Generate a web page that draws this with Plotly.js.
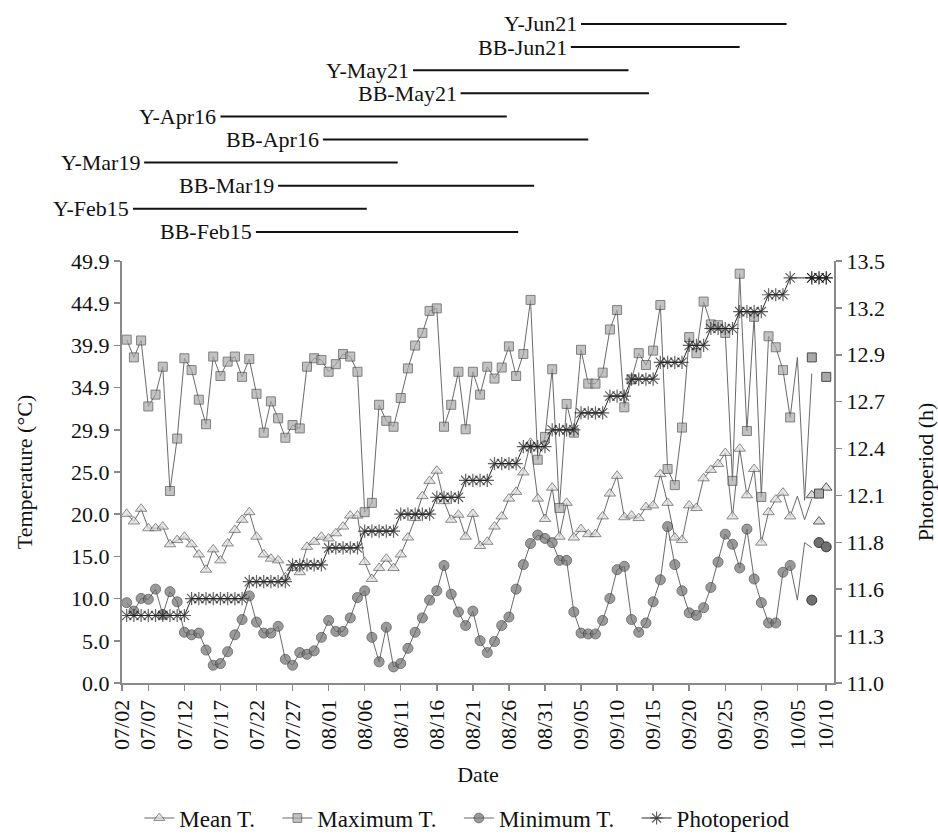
<!DOCTYPE html>
<html>
<head>
<meta charset="utf-8">
<script src="https://cdn.plot.ly/plotly-3.0.1.min.js"></script>
<style>html,body{margin:0;padding:0;background:#fff}#chart{width:938px;height:839px}</style>
</head>
<body>
<div id="chart"></div>
<script>
// ---------------- DATA ----------------
const YEAR = 2021;
const dates = [
 '07-04','07-05','07-06','07-07','07-08','07-09','07-10','07-11','07-12','07-13','07-14','07-15','07-16','07-17',
 '07-18','07-19','07-20','07-21','07-22','07-23','07-24','07-25','07-26','07-27','07-28','07-29','07-30','07-31',
 '08-01','08-02','08-03','08-04','08-05','08-06','08-07','08-08','08-09','08-10','08-11','08-12','08-13','08-14',
 '08-15','08-16','08-17','08-18','08-19','08-20','08-21','08-22','08-23','08-24','08-25','08-26','08-27','08-28',
 '08-29','08-30','08-31',
 '09-01','09-02','09-03','09-04','09-05','09-06','09-07','09-08','09-09','09-10','09-11','09-12','09-13','09-14',
 '09-15','09-16','09-17','09-18','09-19','09-20','09-21','09-22','09-23','09-24','09-25','09-26','09-27','09-28',
 '09-29','09-30',
 '10-01','10-02','10-03','10-04','10-05','10-06','10-07','10-08','10-09'
];
// line values (first 93 with markers, last 3 drawn as line only)
const meanT = [20.0,19.1,20.6,18.3,18.3,18.5,16.4,16.9,17.3,16.4,15.2,13.4,15.8,14.5,16.5,18.1,19.3,20.2,17.3,15.2,
 14.7,14.5,12.5,13.6,13.1,16.1,16.7,17.3,17.1,17.7,18.5,19.8,19.8,14.3,12.3,13.6,14.7,13.6,15.2,17.2,
 19.5,22.1,23.9,25.1,21.5,19.3,19.9,17.3,20.0,16.2,16.7,18.5,19.7,21.8,22.6,24.9,28.4,21.8,19.4,23.1,
 17.3,21.3,17.2,18.2,17.6,17.6,19.7,22.4,24.5,19.6,19.8,19.5,20.8,21.0,24.7,21.3,17.2,16.9,21.0,20.7,
 24.2,25.2,25.9,27.2,19.7,27.7,22.2,25.3,16.6,20.2,21.7,22.5,19.7,22.1,19.3,21.8];
const maxT = [40.6,38.5,40.5,32.7,34.1,37.4,22.7,28.9,38.4,37.0,33.5,30.6,38.6,36.3,38.0,38.6,36.2,38.3,34.2,29.6,
 33.3,31.3,29.0,30.5,30.1,37.4,38.4,38.2,36.8,37.7,38.9,38.6,36.8,20.2,21.3,32.9,31.0,30.3,33.7,37.2,
 39.9,41.4,44.0,44.3,30.3,32.9,36.8,30.0,36.8,34.1,37.4,36.0,37.3,39.8,36.3,38.9,45.3,26.4,29.1,37.1,
 20.7,33.0,29.6,39.4,35.4,35.4,36.7,41.8,44.1,32.6,35.9,39.0,37.6,39.3,44.7,25.3,23.4,30.2,40.9,39.0,
 45.1,42.4,42.3,41.4,23.9,48.4,29.8,43.3,22.0,41.0,39.7,37.0,31.4,38.5,21.6,36.6];
const minT = [9.5,8.5,10.0,9.9,11.1,8.1,10.8,9.6,6.0,5.7,5.9,3.9,2.1,2.3,3.7,5.7,7.5,10.3,7.2,5.9,
 5.9,6.7,2.8,2.1,3.6,3.4,3.8,5.4,7.4,6.1,6.1,7.7,10.1,10.9,5.4,2.5,6.6,1.9,2.3,4.1,
 6.0,7.7,9.8,10.9,13.9,10.5,8.4,6.8,8.5,5.0,3.6,4.9,6.8,7.8,11.1,14.0,16.5,17.5,17.1,16.6,
 14.5,14.5,8.4,5.9,5.8,5.8,7.4,10.0,13.4,13.8,7.5,6.0,7.1,9.6,12.2,18.5,14.0,10.9,8.3,8.0,
 8.9,11.3,14.3,17.6,16.4,13.6,18.2,12.3,9.5,7.1,7.1,13.1,13.9,9.8,16.6,16.0];
const photo = [11.4,11.4,11.4,11.4,11.4,11.4,11.4,11.4,11.4,11.5,11.5,11.5,11.5,11.5,11.5,11.5,11.5,
 11.6,11.6,11.6,11.6,11.6,11.6,11.7,11.7,11.7,11.7,11.7,11.8,11.8,11.8,11.8,11.8,
 11.9,11.9,11.9,11.9,11.9,12.0,12.0,12.0,12.0,12.0,12.1,12.1,12.1,12.1,12.2,12.2,12.2,12.2,
 12.3,12.3,12.3,12.3,12.4,12.4,12.4,12.4,12.5,12.5,12.5,12.5,12.6,12.6,12.6,12.6,
 12.7,12.7,12.7,12.8,12.8,12.8,12.8,12.9,12.9,12.9,12.9,13.0,13.0,13.0,
 13.1,13.1,13.1,13.1,13.2,13.2,13.2,13.2,13.3,13.3,13.3,13.4,13.4,13.4,13.4];
// marker-only points at the last three dates
const meanTTail = [22.2,19.1,23.1];
const maxTTail = [38.5,22.4,36.2];
const minTTail = [9.8,16.6,16.1];
const photoTail = [13.4,13.4,13.4];

const seriesNames = ['Mean T.','Maximum T.','Minimum T.','Photoperiod'];
const xTickLabels = ['07/02','07/07','07/12','07/17','07/22','07/27','08/01','08/06','08/11','08/16','08/21',
 '08/26','08/31','09/05','09/10','09/15','09/20','09/25','09/30','10/05','10/10'];
const yTickLabels = ['0.0','5.0','10.0','15.0','20.0','25.0','29.9','34.9','39.9','44.9','49.9'];
const y2TickLabels = ['11.0','11.3','11.6','11.8','12.1','12.4','12.7','12.9','13.2','13.5'];

const periodLabels = ['Y-Jun21','BB-Jun21','Y-May21','BB-May21','Y-Apr16','BB-Apr16','Y-Mar19','BB-Mar19','Y-Feb15','BB-Feb15'];
const periodStart = ['09-05 00:00','09-03 14:00','08-12 17:00','08-19 07:00','07-17 00:00','07-31 05:00','07-06 10:00','07-25 00:00','07-04 21:00','07-21 22:00'];
const periodEnd   = ['10-03 12:00','09-27 00:00','09-11 14:00','09-14 10:00','08-25 17:00','09-06 00:00','08-10 14:00','08-29 12:00','08-06 07:00','08-27 07:00'];

// ---------------- BUILD ----------------
const X = dates.map(d => `${YEAR}-${d}`);
const nLine = meanT.length;           // 96 line points
const nMark = 93;                     // points that carry markers
const xLine = X.slice(0, nLine);
const xTail = X.slice(X.length - 3);
const sizes = (s) => xLine.map((_, i) => i < nMark ? s : 0);

const FONT = 'Liberation Serif, Times New Roman, DejaVu Serif, serif';
const lineCol = '#6a6a6a';
const PAD = '\u00a0\u00a0\u00a0';

const styles = [
  {sym:'triangle-up', size:10, fill:'#dcdcdc', edge:'#5a5a5a'},
  {sym:'square', size:9, fill:'#a9a9a9', edge:'#4a4a4a'},
  {sym:'circle', size:10, fill:'#707070', edge:'#3e3e3e'},
  {sym:'asterisk-open', size:11, fill:'#1e1e1e', edge:'#1e1e1e'}
];
const lineVals = [meanT, maxT, minT, photo];
const tailVals = [meanTTail, maxTTail, minTTail, photoTail];

const traces = [];
lineVals.forEach((vals, s) => {
  const st = styles[s];
  const isPhoto = s === 3;
  traces.push({
    type:'scatter', mode:'lines+markers',
    name: seriesNames[s] + (s < seriesNames.length - 1 ? PAD : ''),
    x: xLine, y: vals, yaxis: isPhoto ? 'y2' : 'y',
    line:{color: isPhoto ? '#2a2a2a' : lineCol, width:1},
    marker:{symbol: st.sym, size: sizes(st.size), color: st.fill,
            line:{color: st.edge, width: isPhoto ? 1.2 : 1}}
  });
});
tailVals.forEach((vals, s) => {
  const st = styles[s];
  traces.push({
    type:'scatter', mode:'markers', showlegend:false, hoverinfo:'skip',
    x: xTail, y: vals, yaxis: s === 3 ? 'y2' : 'y',
    marker:{symbol: st.sym, size: st.size, color: st.fill,
            line:{color: st.edge, width: s === 3 ? 1.2 : 1}}
  });
});

// x ticks: label dates clamped into the visible data span
const xRange = [`${YEAR}-07-03 08:24`, `${YEAR}-10-10 01:50`];
const firstMs = new Date(xRange[0].replace(' ', 'T')).getTime();
const lastMs = new Date(X[X.length-1] + 'T00:00').getTime();
const tickVals = xTickLabels.map(l => {
  const iso = `${YEAR}-${l.replace('/', '-')}`;
  const ms = new Date(iso + 'T00:00').getTime();
  if (ms < firstMs) return xRange[0];
  if (ms > lastMs) return X[X.length-1];
  return iso;
});

const yMax = 49.9, y2Min = 11.0, y2Max = 13.5;
const yTickVals = yTickLabels.map((_, i) => i * yMax / (yTickLabels.length - 1));
const y2TickVals = y2TickLabels.map((_, i) => y2Min + i * (y2Max - y2Min) / (y2TickLabels.length - 1));

// period bars above the plot
const plotTop = 261, plotBottom = 683, plotH = plotBottom - plotTop;
const shapes = [], annotations = [];
periodLabels.forEach((lab, i) => {
  const yPx = 24 + i * 23.1;
  const yp = (plotBottom - yPx) / plotH;
  shapes.push({type:'line', xref:'x', yref:'paper',
    x0: `${YEAR}-${periodStart[i]}`, x1: `${YEAR}-${periodEnd[i]}`, y0: yp, y1: yp,
    line:{color:'#111', width:2}});
  annotations.push({xref:'x', yref:'paper', x: `${YEAR}-${periodStart[i]}`, y: yp,
    text: lab, showarrow:false, xanchor:'right', yanchor:'middle', xshift:-2,
    font:{family:FONT, size:22, color:'#111'}});
});

const axisCommon = {
  showgrid:false, zeroline:false, showline:true, linecolor:'#8a8a8a', linewidth:2,
  ticks:'outside', ticklen:6, tickwidth:1.5, tickcolor:'#8a8a8a', automargin:false,
  tickfont:{family:FONT, size:22, color:'#111'}
};

const layout = {
  width:938, height:839,
  margin:{l:122, r:104, t:plotTop, b:839 - plotBottom, pad:0, autoexpand:false},
  paper_bgcolor:'#fff', plot_bgcolor:'#fff',
  font:{family:FONT, size:22, color:'#111'},
  showlegend:true,
  legend:{orientation:'h', x:0.485, xanchor:'center', y:-0.32, yanchor:'middle',
          font:{family:FONT, size:23, color:'#111'}, itemwidth:30, tracegroupgap:0},
  xaxis: Object.assign({}, axisCommon, {
    type:'date', range:xRange, tickmode:'array', tickvals:tickVals, ticktext:xTickLabels,
    tickangle:-90, title:{text:'Date', standoff:18, font:{family:FONT, size:22, color:'#111'}}
  }),
  yaxis: Object.assign({}, axisCommon, {
    range:[0, yMax], tickmode:'array', tickvals:yTickVals, ticktext:yTickLabels,
    title:{text:'Temperature (°C)', standoff:32, font:{family:FONT, size:22, color:'#111'}}
  }),
  yaxis2: Object.assign({}, axisCommon, {
    overlaying:'y', side:'right', range:[y2Min, y2Max], tickmode:'array',
    tickvals:y2TickVals, ticktext:y2TickLabels,
    title:{text:'Photoperiod (h)', standoff:36, font:{family:FONT, size:22, color:'#111'}}
  }),
  shapes, annotations
};

Plotly.newPlot('chart', traces, layout, {displayModeBar:false, staticPlot:true});
</script>
</body>
</html>
